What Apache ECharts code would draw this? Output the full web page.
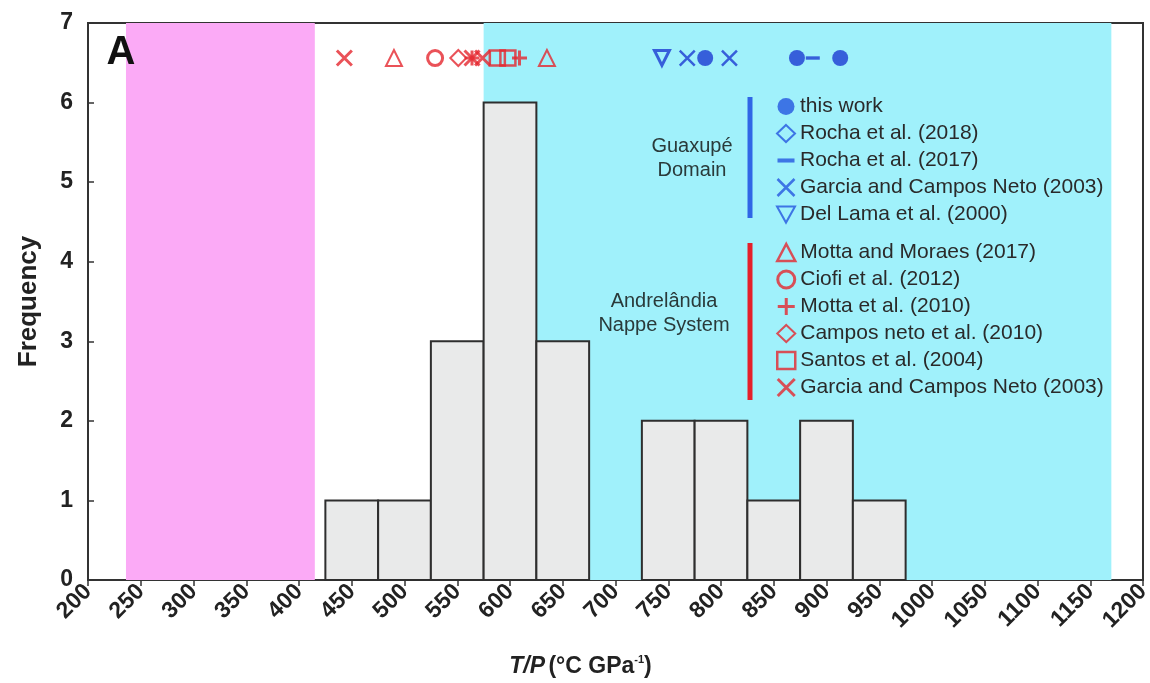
<!DOCTYPE html>
<html>
<head>
<meta charset="utf-8">
<script src="https://cdn.jsdelivr.net/npm/echarts@6/dist/echarts.min.js"></script>
<style>
  html, body { margin: 0; padding: 0; background: #ffffff; }
  #chart { width: 1150px; height: 683px; }
</style>
</head>
<body>
<div id="chart"></div>
<script>
// Histogram of T/P ratios (bins 50 °C/GPa wide, labelled by centre)
const binCenters = [450, 500, 550, 600, 650, 700, 750, 800, 850, 900, 950];
const frequency  = [1, 1, 3, 6, 3, 0, 2, 2, 1, 2, 1];
const binWidth = 50;

// Shaded T/P fields
const pinkField = [236, 415];
const cyanField = [575, 1170];

// Axis ticks
const xTicks = [200, 250, 300, 350, 400, 450, 500, 550, 600, 650, 700, 750, 800, 850, 900, 950, 1000, 1050, 1100, 1150, 1200];
const yTicks = [0, 1, 2, 3, 4, 5, 6, 7];

// Published T/P estimates plotted along the top of the panel
const markerLevel = 6.56;
const thisWork        = [785, 872, 913];
const rocha2018       = [];
const rocha2017       = [887];
const garciaGuaxupe   = [768, 808];
const delLama2000     = [744];
const mottaMoraes2017 = [490, 635];
const ciofi2012       = [529];
const motta2010       = [564, 609];
const camposNeto2010  = [551];
const santos2004      = [588, 598];
const garciaAndrel    = [443, 564, 574];

const RED = '#e5272e';
const BLUE = '#1b3bd2';
const BLUE_LEGEND = '#2456e0';
const FONT = '"Liberation Sans", Arial, sans-serif';
const CLEAR = 'rgba(0,0,0,0)';

// stroked symbol outlines (the leading moves fix a square bounding box)
const X_PATH = 'path://M0,0L10,10M0,10L10,0';
const PLUS_PATH = 'path://M5,0L5,10M0,5L10,5';
const DASH_PATH = 'path://M0,0M10,10M0,3.8L10,3.8L10,6.2L0,6.2Z';
const TRI_DOWN_PATH = 'path://M0,0L10,0L5,9Z';

const markerSeries = [
  { key: 'thisWork', label: 'this work', data: thisWork, symbol: 'circle', size: 16,
    style: { color: BLUE, borderColor: BLUE, borderWidth: 0 },
    legendStyle: { color: BLUE_LEGEND, borderWidth: 0 } },
  { key: 'rocha2018', label: 'Rocha et al. (2018)', data: rocha2018, symbol: 'diamond', size: 15,
    style: { color: CLEAR, borderColor: BLUE, borderWidth: 2 },
    legendStyle: { color: CLEAR, borderColor: BLUE_LEGEND, borderWidth: 2 } },
  { key: 'rocha2017', label: 'Rocha et al. (2017)', data: rocha2017, symbol: DASH_PATH, size: 14,
    style: { color: BLUE, borderWidth: 0 },
    legendStyle: { color: BLUE_LEGEND, borderWidth: 0 } },
  { key: 'garciaG', label: 'Garcia and Campos Neto (2003)', data: garciaGuaxupe, symbol: X_PATH, size: 15,
    style: { color: CLEAR, borderColor: BLUE, borderWidth: 2.5 },
    legendStyle: { color: CLEAR, borderColor: BLUE_LEGEND, borderWidth: 2.5 } },
  { key: 'delLama', label: 'Del Lama et al. (2000)', data: delLama2000, symbol: TRI_DOWN_PATH, size: 15,
    style: { color: CLEAR, borderColor: BLUE, borderWidth: 3 },
    legendStyle: { color: CLEAR, borderColor: BLUE_LEGEND, borderWidth: 2 } },
  { key: 'mottaMoraes', label: 'Motta and Moraes (2017)', data: mottaMoraes2017, symbol: 'triangle', size: 16,
    style: { color: CLEAR, borderColor: RED, borderWidth: 2 },
    legendStyle: { color: CLEAR, borderColor: RED, borderWidth: 2.5 } },
  { key: 'ciofi', label: 'Ciofi et al. (2012)', data: ciofi2012, symbol: 'circle', size: 15,
    style: { color: CLEAR, borderColor: RED, borderWidth: 3 },
    legendStyle: { color: CLEAR, borderColor: RED, borderWidth: 3 } },
  { key: 'motta2010', label: 'Motta et al. (2010)', data: motta2010, symbol: PLUS_PATH, size: 15,
    style: { color: CLEAR, borderColor: RED, borderWidth: 3 },
    legendStyle: { color: CLEAR, borderColor: RED, borderWidth: 3 } },
  { key: 'campos', label: 'Campos neto et al. (2010)', data: camposNeto2010, symbol: 'diamond', size: 16,
    style: { color: CLEAR, borderColor: RED, borderWidth: 2 },
    legendStyle: { color: CLEAR, borderColor: RED, borderWidth: 2 } },
  { key: 'santos', label: 'Santos et al. (2004)', data: santos2004, symbol: 'rect', size: 15,
    style: { color: CLEAR, borderColor: RED, borderWidth: 2.5 },
    legendStyle: { color: CLEAR, borderColor: RED, borderWidth: 2.5 } },
  { key: 'garciaA', label: 'Garcia and Campos Neto (2003)', data: garciaAndrel, symbol: X_PATH, size: 15,
    style: { color: CLEAR, borderColor: RED, borderWidth: 3 },
    legendStyle: { color: CLEAR, borderColor: RED, borderWidth: 3 } }
];
const labelOf = {};
markerSeries.forEach(s => { labelOf[s.key] = s.label; });

const legendItem = s => ({ name: s.key, icon: s.symbol, itemStyle: s.legendStyle });

const chart = echarts.init(document.getElementById('chart'), null, { renderer: 'canvas' });

const series = [
  {
    // shaded fields
    type: 'custom',
    z: 1,
    silent: true,
    data: [[pinkField[0], pinkField[1], 0], [cyanField[0], cyanField[1], 1]],
    renderItem: (params, api) => {
      const a = api.coord([api.value(0), yTicks[yTicks.length - 1]]);
      const b = api.coord([api.value(1), 0]);
      return {
        type: 'rect',
        shape: { x: a[0], y: a[1], width: b[0] - a[0], height: b[1] - a[1] },
        style: { fill: api.value(2) === 0 ? '#fbaaf6' : '#a0f1fb' }
      };
    }
  },
  {
    // histogram bars
    type: 'custom',
    z: 2,
    silent: true,
    data: binCenters.map((c, i) => [c, frequency[i]]),
    renderItem: (params, api) => {
      const c = api.value(0), n = api.value(1);
      if (!n) return null;
      const a = api.coord([c - binWidth / 2, n]);
      const b = api.coord([c + binWidth / 2, 0]);
      return {
        type: 'rect',
        shape: { x: a[0], y: a[1], width: b[0] - a[0], height: b[1] - a[1] },
        style: { fill: '#e9eaea', stroke: '#2e2e2e', lineWidth: 2 }
      };
    }
  }
];

markerSeries.forEach(s => {
  series.push({
    name: s.key,
    type: 'scatter',
    z: 4,
    symbol: s.symbol,
    symbolSize: s.size,
    itemStyle: s.style,
    data: s.data.map(v => [v, markerLevel])
  });
});

const legendBase = {
  orient: 'vertical',
  left: 771,
  itemWidth: 18,
  itemHeight: 17,
  itemGap: 6,
  selectedMode: false,
  formatter: name => labelOf[name],
  textStyle: { fontFamily: FONT, fontSize: 21, lineHeight: 21, color: '#2a2a2a', padding: [0, 0, 0, 0] }
};

const option = {
  animation: false,
  backgroundColor: '#ffffff',
  grid: {
    left: 88, right: 7, top: 23, bottom: 103,
    outerBoundsMode: 'none',
    containLabel: false,
    show: true, borderColor: '#333333', borderWidth: 2, backgroundColor: '#ffffff', z: 0
  },
  xAxis: {
    type: 'value',
    min: xTicks[0], max: xTicks[xTicks.length - 1], interval: 50,
    splitLine: { show: false },
    axisLine: { lineStyle: { color: '#333333', width: 2 } },
    axisTick: { length: 6, lineStyle: { color: '#333333', width: 1.5 } },
    axisLabel: {
      rotate: 45, margin: 8, fontFamily: FONT, fontWeight: 'bold', fontSize: 23, color: '#222222',
      formatter: v => String(v)
    },
    name: '{it|T/P} {b|(°C GPa}{sup|-1}{b|)}',
    nameLocation: 'middle',
    nameGap: 74,
    nameTextStyle: {
      padding: [0, 70, 0, 0],
      rich: {
        it: { fontFamily: FONT, fontStyle: 'italic', fontWeight: 'bold', fontSize: 23, color: '#222222', lineHeight: 26 },
        b: { fontFamily: FONT, fontWeight: 'bold', fontSize: 23, color: '#222222', lineHeight: 26 },
        sup: { fontFamily: FONT, fontWeight: 'bold', fontSize: 11, color: '#222222', verticalAlign: 'top', lineHeight: 26 }
      }
    }
  },
  yAxis: {
    type: 'value',
    min: yTicks[0], max: yTicks[yTicks.length - 1], interval: 1,
    splitLine: { show: false },
    axisLine: { show: true, lineStyle: { color: '#333333', width: 2 } },
    axisTick: { show: true, inside: true, length: 6, lineStyle: { color: '#333333', width: 1.5 } },
    axisLabel: { margin: 15, fontFamily: FONT, fontWeight: 'bold', fontSize: 23, color: '#222222' },
    name: 'Frequency',
    nameLocation: 'middle',
    nameGap: 46,
    nameTextStyle: { fontFamily: FONT, fontWeight: 'bold', fontSize: 26, color: '#222222' }
  },
  legend: [
    Object.assign({}, legendBase, { id: 'guaxupe', top: 91, data: markerSeries.slice(0, 5).map(legendItem) }),
    Object.assign({}, legendBase, { id: 'andrelandia', top: 237, data: markerSeries.slice(5).map(legendItem) })
  ],
  graphic: [
    { type: 'text', x: 121, y: 53, z: 10,
      style: { text: 'A', font: 'bold 40px ' + FONT, fill: '#111111', align: 'center', verticalAlign: 'middle' } },
    { type: 'line', z: 10, shape: { x1: 750, y1: 97, x2: 750, y2: 218 },
      style: { stroke: '#2f66e6', lineWidth: 5 } },
    { type: 'line', z: 10, shape: { x1: 750, y1: 243, x2: 750, y2: 400 },
      style: { stroke: '#e5202a', lineWidth: 5 } },
    { type: 'text', z: 10, x: 692, y: 158,
      style: { text: 'Guaxupé\nDomain', font: '20px ' + FONT, fill: '#2a3a3a', align: 'center', verticalAlign: 'middle', lineHeight: 24 } },
    { type: 'text', z: 10, x: 664, y: 313,
      style: { text: 'Andrelândia\nNappe System', font: '20px ' + FONT, fill: '#2a3a3a', align: 'center', verticalAlign: 'middle', lineHeight: 24 } }
  ],
  series: series
};

chart.setOption(option);
</script>
</body>
</html>
